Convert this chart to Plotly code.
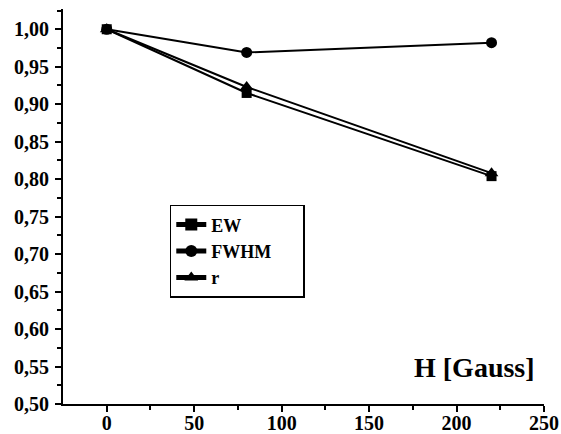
import plotly.graph_objects as go

h = [0, 80, 220]
ew = [1.0, 0.915, 0.804]
fwhm = [1.0, 0.969, 0.982]
r = [1.0, 0.923, 0.808]

names = ["EW", "FWHM", "r"]
series = [ew, fwhm, r]
symbols = ["square", "circle", "triangle-up"]
sizes = [10, 11, 12]

font = "Liberation Serif"
fig = go.Figure()
for n, s, sym, sz in zip(names, series, symbols, sizes):
    fig.add_trace(go.Scatter(x=h, y=s, name=n, mode="lines+markers", showlegend=False,
                             line=dict(color="black", width=2),
                             marker=dict(symbol=sym, size=sz, color="black")))
for n, sym, sz in zip(names, symbols, sizes):
    fig.add_trace(go.Scatter(x=[None], y=[None], name=n + "      ", mode="lines+markers",
                             line=dict(color="black", width=1.5),
                             marker=dict(symbol=sym, size=sz, color="black")))

fig.update_layout(
    width=561, height=434,
    margin=dict(l=63, r=17, t=9, b=30),
    paper_bgcolor="white", plot_bgcolor="white",
    separators=",.",
    font=dict(family=font, size=19, color="black", weight="bold"),
    showlegend=True,
    legend=dict(x=0.222, y=0.504, xanchor="left", yanchor="top",
                bordercolor="black", borderwidth=1.5, bgcolor="white",
                font=dict(family=font, size=18, color="black", weight="bold"),
                tracegroupgap=0, itemsizing="constant"),
    annotations=[dict(text="H [Gauss]", x=246, y=0.525, xref="x", yref="y",
                      xanchor="right", yanchor="bottom", showarrow=False,
                      font=dict(family=font, size=28, color="black", weight="bold"))],
)
fig.update_xaxes(range=[-25, 250], showgrid=False, zeroline=False, automargin=False,
                 showline=True, linecolor="black", linewidth=1.5,
                 ticks="outside", ticklen=6, tickwidth=2, tickcolor="black",
                 tickvals=[0, 50, 100, 150, 200, 250], ticklabelstandoff=-6,
                 tickfont=dict(family=font, size=20, color="black", weight="bold"),
                 minor=dict(tickvals=[25, 75, 125, 175, 225], ticks="outside", ticklen=4,
                            tickwidth=2, tickcolor="black"))
fig.update_yaxes(range=[0.5, 1.027], showgrid=False, zeroline=False, automargin=False,
                 showline=True, linecolor="black", linewidth=2,
                 ticks="outside", ticklen=6, tickwidth=2, tickcolor="black",
                 dtick=0.05, tick0=0.5, tickformat=".2f", ticklabelstandoff=2,
                 tickfont=dict(family=font, size=20, color="black", weight="bold"),
                 minor=dict(dtick=0.025, ticks="outside", ticklen=4,
                            tickwidth=1.5, tickcolor="black"))

fig.write_html("out.html")
